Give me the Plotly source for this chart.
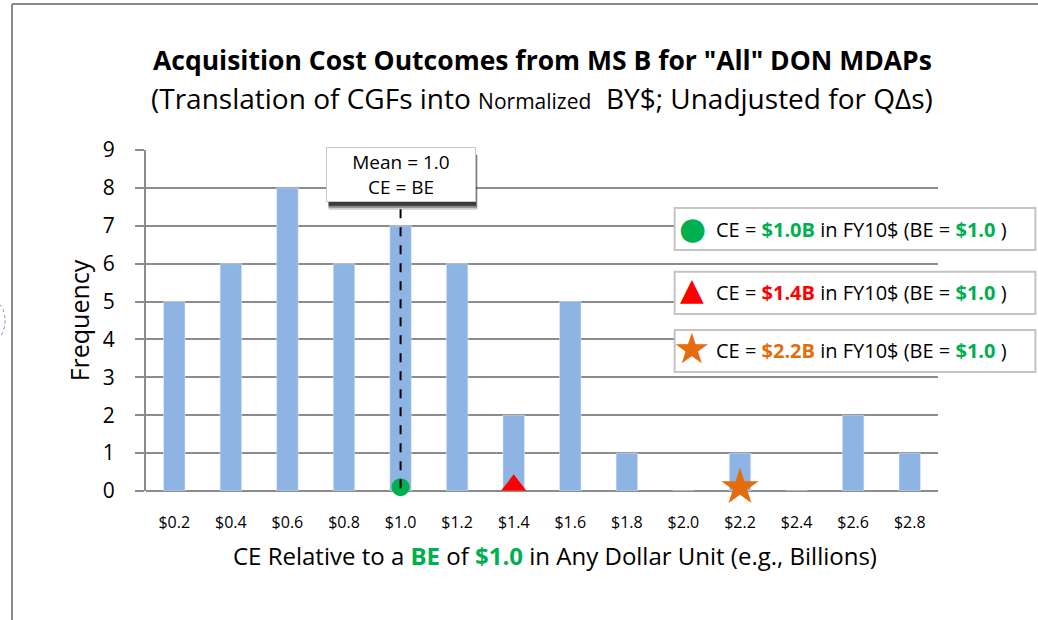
import plotly.graph_objects as go

# Histogram of CE relative to a BE of $1.0
bins = [0.2, 0.4, 0.6, 0.8, 1.0, 1.2, 1.4, 1.6, 1.8, 2.0, 2.2, 2.4, 2.6, 2.8]
freq = [5, 6, 8, 6, 7, 6, 2, 5, 1, 0, 1, 0, 2, 1]
tick_text = ["$%.1f" % b for b in bins]

# Highlighted outcomes on the axis
outcome_ce = [1.0, 1.4, 2.2]
outcome_colors = ["#00B050", "#FF0000", "#E46C0A"]
outcome_symbols = ["circle", "triangle-up", "star"]
outcome_sizes = [18, 22, 28]
mean_ce = 1.0

FONT = "Open Sans"
GREEN = "#00B050"
GRID = "#8c8c8c"

fig = go.Figure()
fig.add_trace(go.Bar(x=bins, y=freq, marker_color="#8DB4E2", width=0.076,
                     showlegend=False, hoverinfo="x+y"))

# Mean line
fig.add_shape(type="line", x0=mean_ce, x1=mean_ce, y0=-0.4, y1=7.6,
              line=dict(color="black", width=2, dash="dash"), layer="above")

fig.add_trace(go.Scatter(
    x=outcome_ce, y=[0.1, 0.15, 0.1], mode="markers",
    marker=dict(color=outcome_colors, symbol=outcome_symbols, size=outcome_sizes,
                opacity=1, line=dict(width=0)),
    cliponaxis=False, showlegend=False, hoverinfo="x"))

# Mean label box with drop shadow
for off, op in [(8, 0.2), (6, 0.4), (4, 0.65)]:
    fig.add_shape(type="rect", xref="x", yref="y", xsizemode="pixel", ysizemode="pixel",
                  xanchor=mean_ce, yanchor=8.35, x0=-72, x1=74 + off * 0.4,
                  y0=-27 - off, y1=20,
                  fillcolor="rgba(20,20,20,%.2f)" % op, line_width=0, layer="above")
fig.add_annotation(x=mean_ce, y=8.35, xref="x", yref="y", showarrow=False,
                   text="Mean = 1.0<br>CE = BE", align="center",
                   font=dict(family=FONT, size=19, color="black"),
                   bgcolor="white", bordercolor="#c8c8c8", borderwidth=1,
                   width=146, height=51, borderpad=1)

# Outcome key: boxes, symbol glyphs and text
box_y = [0.768, 0.581, 0.4106]
box_half_h = 0.0616
glyphs = ["●", "▲", "★"]
glyph_sizes = [31, 31, 42]
glyph_dy = [0.004, 0.01, 0.008]
for y in box_y:
    fig.add_shape(type="rect", xref="paper", yref="paper", x0=0.6675, x1=1.123,
                  y0=y - box_half_h, y1=y + box_half_h, fillcolor="white",
                  line=dict(color="#c4c4c4", width=2), layer="above")
for ce, col, g, gs, dy, yy in zip(outcome_ce, outcome_colors, glyphs, glyph_sizes, glyph_dy, box_y):
    fig.add_annotation(x=0.6894, y=yy + dy, xref="paper", yref="paper", showarrow=False,
                       text=g, xanchor="center", yanchor="middle",
                       font=dict(family="DejaVu Sans", size=gs, color=col))
    txt = ('CE = <b><span style="color:%s">$%.1fB</span></b> in FY10$ (BE = '
           '<b><span style="color:%s">$1.0</span></b> )') % (col, ce, GREEN)
    fig.add_annotation(x=0.7175, y=yy, xref="paper", yref="paper", showarrow=False,
                       text=txt, align="left", xanchor="left", yanchor="middle",
                       font=dict(family=FONT, size=20, color="black"))

# Titles
fig.add_annotation(x=0.5, y=1.264, xref="paper", yref="paper", showarrow=False,
                   yanchor="middle",
                   text='<b>Acquisition Cost Outcomes from MS B for "All" DON MDAPs</b>',
                   font=dict(family=FONT, size=26.5, color="black"))
fig.add_annotation(x=0.5, y=1.152, xref="paper", yref="paper", showarrow=False,
                   yanchor="middle",
                   text='(Translation of CGFs into <span style="font-size:21px">Normalized</span>  BY$; Unadjusted for QΔs)',
                   font=dict(family=FONT, size=28, color="black"))
fig.add_annotation(x=0.516, y=-0.188, xref="paper", yref="paper", showarrow=False,
                   yanchor="middle",
                   text='CE Relative to a <b><span style="color:#00B050">BE</span></b> of '
                        '<b><span style="color:#00B050">$1.0</span></b> in Any Dollar Unit (e.g., Billions)',
                   font=dict(family=FONT, size=24, color="black"))

# Frame lines and marker
fig.add_shape(type="line", xref="paper", yref="paper", x0=-0.1692, x1=1.13, y0=1.428, y1=1.428,
              line=dict(color="#8a8a8a", width=2))
fig.add_shape(type="line", xref="paper", yref="paper", x0=-0.1692, x1=-0.1692, y0=1.428, y1=-0.4,
              line=dict(color="#8a8a8a", width=2))
fig.add_shape(type="circle", xref="paper", yref="paper", x0=-0.1995, x1=-0.178, y0=0.4487, y1=0.551,
              line=dict(color="#6f8fbf", width=1, dash="dot"))

fig.update_layout(
    width=1038, height=620,
    margin=dict(l=146, r=100, t=150, b=129),
    paper_bgcolor="white", plot_bgcolor="white",
    font=dict(family=FONT, color="black"),
    xaxis=dict(range=[0.1, 2.9], tickvals=bins, ticktext=tick_text, showgrid=False,
               tickfont=dict(size=16), ticks="", ticklabelstandoff=20,
               zeroline=False, showline=False),
    yaxis=dict(range=[0, 9], dtick=1, showgrid=True, gridcolor=GRID, gridwidth=2,
               showline=True, linecolor=GRID, linewidth=2, ticks="outside", ticklen=9,
               tickcolor=GRID, tickwidth=2, tickfont=dict(size=21), ticklabelstandoff=16,
               zeroline=True, zerolinecolor=GRID, zerolinewidth=2,
               title=dict(text="Frequency", font=dict(size=25), standoff=6)),
)

fig.write_html("out.html")
